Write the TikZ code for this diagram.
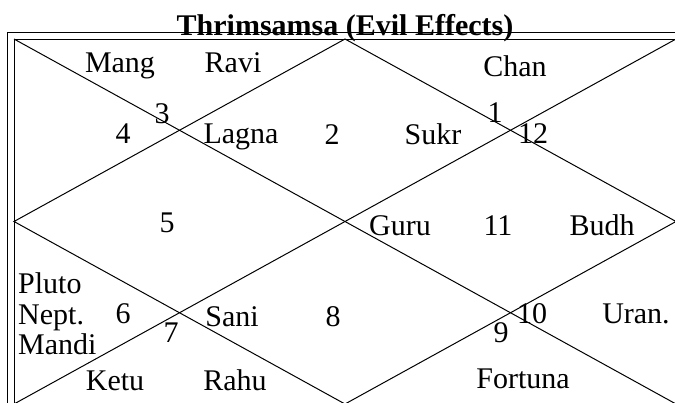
\documentclass[tikz,border=0pt]{standalone}
\usepackage{fontspec}
\setmainfont{Liberation Serif}
\begin{document}
\begin{tikzpicture}[x=1pt,y=-1pt,
  chartline/.style={line width=1pt,black},
  lbl/.style={anchor=base,inner sep=0pt,font=\fontsize{30}{35}\selectfont},
  lbll/.style={anchor=base west,inner sep=0pt,font=\fontsize{30}{35}\selectfont},
  ttl/.style={anchor=base,inner sep=0pt,font=\fontsize{30}{35}\selectfont\bfseries}]
\useasboundingbox (0,0) rectangle (675,402);
\clip (0,0) rectangle (675,402);
% frame corners
\coordinate (oTL) at (7,32);
\coordinate (oBR) at (683,411);
\coordinate (TL) at (14,39);
\coordinate (TR) at (676,39);
\coordinate (BL) at (14,404);
\coordinate (BR) at (676,404);
\coordinate (TM) at (345,39);
\coordinate (BM) at (345,404);
\coordinate (LM) at (14,221.5);
\coordinate (RM) at (676,221.5);
% title
\node[ttl] (title) at (345,35) {Thrimsamsa (Evil Effects)};
% frames
\draw[chartline] (oTL) rectangle (oBR);
\draw[chartline] (TL) rectangle (BR);
\draw[chartline] (TL) -- (BR);
\draw[chartline] (TR) -- (BL);
\draw[chartline] (TM) -- (RM) -- (BM) -- (LM) -- cycle;
% house numbers
\node[lbl] (h1) at (495,122) {1};
\node[lbl] (h2) at (332,144) {2};
\node[lbl] (h3) at (162,123) {3};
\node[lbl] (h4) at (123,143) {4};
\node[lbl] (h5) at (167,232) {5};
\node[lbl] (h6) at (123,323) {6};
\node[lbl] (h7) at (171,342) {7};
\node[lbl] (h8) at (333,326) {8};
\node[lbl] (h9) at (501,342) {9};
\node[lbl] (h10) at (532,323) {10};
\node[lbl] (h11) at (498,235) {11};
\node[lbl] (h12) at (533,143) {12};
% planets
\node[lbl] (mang) at (120,72) {Mang};
\node[lbl] (ravi) at (233,72) {Ravi};
\node[lbl] (chan) at (515,76) {Chan};
\node[lbl] (lagna) at (241,143) {Lagna};
\node[lbl] (sukr) at (433,144) {Sukr};
\node[lbl] (guru) at (400,235) {Guru};
\node[lbl] (budh) at (602,235) {Budh};
\node[lbll] (pluto) at (18,293) {Pluto};
\node[lbll] (nept) at (18,324) {Nept.};
\node[lbll] (mandi) at (18,354) {Mandi};
\node[lbl] (sani) at (232,326) {Sani};
\node[lbl] (uran) at (636,323) {Uran.};
\node[lbl] (ketu) at (115,390) {Ketu};
\node[lbl] (rahu) at (235,390) {Rahu};
\node[lbl] (fortuna) at (523,388) {Fortuna};
\end{tikzpicture}
\end{document}
